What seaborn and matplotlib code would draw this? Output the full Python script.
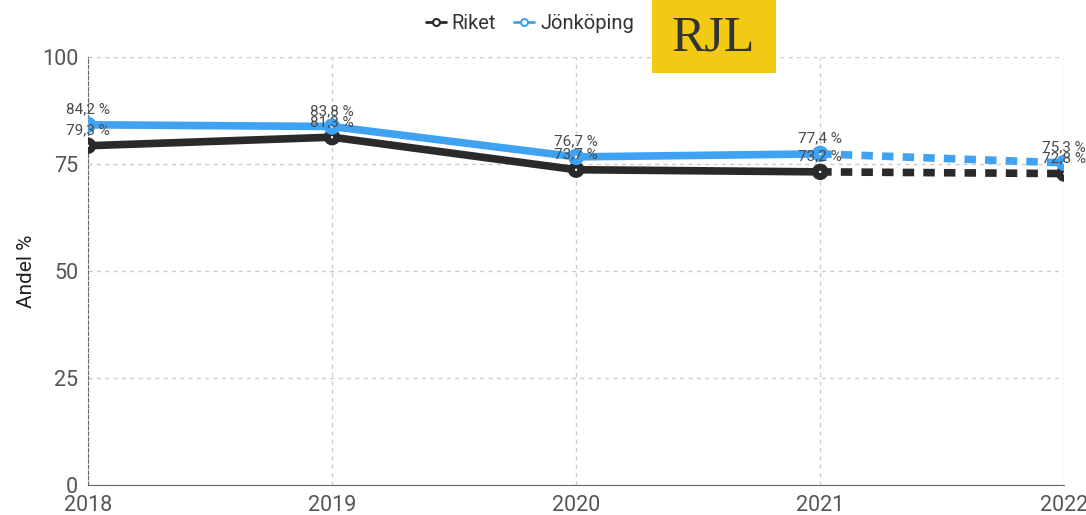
import pandas as pd
import numpy as np
import matplotlib
matplotlib.use("Agg")
import matplotlib.pyplot as plt
import seaborn as sns
from matplotlib.lines import Line2D
from matplotlib.patches import Rectangle

years = [2018, 2019, 2020, 2021, 2022]
riket = [79.3, 81.3, 73.7, 73.2, 72.8]
jonkoping = [84.2, 83.8, 76.7, 77.4, 75.3]
series_names = ["Riket", "Jönköping"]
colors = {"Riket": "#2a2a2a", "Jönköping": "#3fa2f2"}
y_ticks = [0, 25, 50, 75, 100]

df = pd.DataFrame({"year": years * 2,
                   "value": riket + jonkoping,
                   "series": ["Riket"] * 5 + ["Jönköping"] * 5})

sns.set_style("white")
plt.rcParams['font.family'] = ['Roboto', 'DejaVu Sans']

fig = plt.figure(figsize=(10.86, 5.15), dpi=100)
ax = fig.add_axes([0.081, 0.058, 0.899, 0.831])

solid = df[df.year <= 2021]
dashed = df[df.year >= 2021]
for name in series_names:
    sns.lineplot(data=solid[solid.series == name], x="year", y="value", ax=ax,
                 color=colors[name], linewidth=5.5, solid_capstyle="round", zorder=3)
    sns.lineplot(data=dashed[dashed.series == name], x="year", y="value", ax=ax,
                 color=colors[name], linewidth=5.5, dashes=False, linestyle=(0, (1.5, 1.2)),
                 zorder=3)
    sub = df[df.series == name]
    ax.scatter(sub.year, sub.value, s=140, color=colors[name], zorder=4, edgecolor="none")
    ax.scatter(sub.year, sub.value, s=3, color="white", zorder=5, edgecolor="none")

# data labels
for name, vals in [("Riket", riket), ("Jönköping", jonkoping)]:
    for x, v in zip(years, vals):
        ax.annotate(f"{v:.1f} %".replace(".", ","), (x, v), xytext=(0, 6),
                    textcoords="offset points", ha="center", va="bottom",
                    fontsize=11, color="#4a4a4a", zorder=6, annotation_clip=False)

ax.set_xlim(2018, 2022)
ax.set_ylim(0, 100)
ax.set_xticks(years)
ax.set_yticks(y_ticks)
ax.tick_params(axis="both", labelsize=15.5, colors="#555555", length=5, width=1,
               direction="out", pad=2)
ax.grid(True, linestyle=(0, (3, 3)), color="#cccccc", linewidth=1)
for s in ["top", "right"]:
    ax.spines[s].set_visible(False)
ax.spines["left"].set_color("#666666")
ax.spines["left"].set_linestyle((0, (3, 2)))
ax.spines["bottom"].set_color("#666666")
ax.set_xlabel("")
ax.set_ylabel("Andel %", fontsize=15, color="#222222", labelpad=4)

handles = [Line2D([0], [0], color=colors[n], linewidth=2, marker="o", markersize=5,
                  markerfacecolor="white", markeredgewidth=1.5) for n in series_names]
fig.legend(handles, series_names, loc="center", bbox_to_anchor=(0.488, 0.955), ncol=2,
           frameon=False, fontsize=14.5, handlelength=1.0, handletextpad=0.3,
           columnspacing=0.9, labelcolor="#333333")

# logo box
fig.patches.append(Rectangle((0.600, 0.858), 0.115, 0.142, transform=fig.transFigure,
                             facecolor="#f2ca14", edgecolor="none", zorder=10))
fig.text(0.657, 0.925, "RJL", ha="center", va="center", fontsize=36,
         family="Liberation Serif", color="#333333", zorder=11)

fig.savefig("out.png", dpi=100)
